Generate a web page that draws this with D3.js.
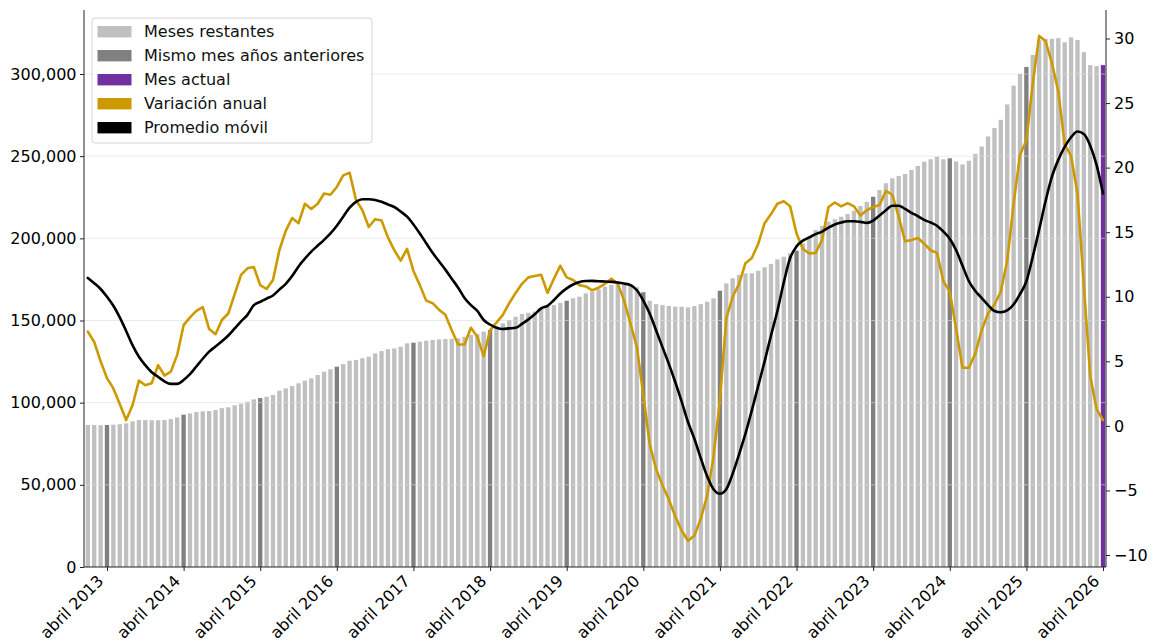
<!DOCTYPE html>
<html><head><meta charset="utf-8">
<script src="https://cdn.jsdelivr.net/npm/d3@7"></script>
<style>
html,body{margin:0;padding:0;background:#fff;}
svg{display:block;font-family:"DejaVu Sans",sans-serif;}
</style></head><body>
<svg id="chart" width="1153" height="641"></svg>
<script>
// ---- data ----
const months = d3.timeMonth.range(new Date(2013, 0, 1), new Date(2026, 4, 1)); // ene 2013 .. abr 2026
const currentMonth = 3; // abril

const stock = [
  86400,86400,86300,86400,86600,86900,87400,88600,89400,89400,89300,89300,
  89400,90000,91000,92700,93500,94300,94700,94900,95500,96700,97200,98400,
  99400,100600,102000,102800,103600,104700,107300,108700,110100,111800,113400,114800,
  116800,118800,120300,121900,123500,125500,126000,127000,128000,130000,131400,132500,
  133000,134000,136100,136500,137100,137700,138100,138500,138700,138900,139100,140100,
  141200,141800,143200,144200,146700,148300,150300,152300,154000,154700,155400,157400,
  158400,159400,160800,162000,163500,164500,166500,167500,169000,170600,171600,172600,
  172200,172200,170200,167200,162000,160000,159400,158800,158400,158400,158000,158800,
  160000,161400,163500,168100,172600,175700,177700,178700,178700,180300,182400,184400,
  187200,188800,190900,192500,197000,201000,205100,207500,210100,211600,213200,214800,
  216800,219700,222300,225300,229400,233500,236500,237900,239100,241600,244000,246600,
  248100,249700,248100,248700,246800,245000,247200,251400,255900,262000,267200,272100,
  281500,292900,300000,304300,311600,320700,321400,321400,321800,319300,322300,320700,
  313300,305400,304800,305400
];

const variacionAnual = [
  7.3,6.5,5.0,3.7,2.9,1.7,0.45,1.6,3.5,3.15,3.3,4.7,
  3.9,4.2,5.5,7.8,8.4,8.9,9.2,7.5,7.1,8.2,8.7,10.2,
  11.7,12.2,12.3,10.9,10.6,11.3,13.6,15.1,16.1,15.7,17.2,16.8,
  17.2,18.0,17.9,18.5,19.4,19.6,17.5,16.7,15.4,16.0,15.9,14.6,
  13.6,12.8,13.7,12.0,10.9,9.7,9.5,9.0,8.6,7.4,6.3,6.3,
  7.6,6.9,5.4,7.4,8.0,8.6,9.5,10.3,11.0,11.5,11.6,11.7,
  10.3,11.4,12.4,11.5,11.3,10.9,10.8,10.5,10.7,11.0,11.4,11.0,
  9.7,7.9,6.1,2.4,-1.4,-3.35,-4.6,-5.7,-7.0,-8.1,-8.9,-8.5,
  -7.2,-5.4,-2.4,2.0,8.3,10.0,11.0,12.6,13.0,14.1,15.7,16.4,
  17.2,17.4,17.0,14.9,13.7,13.35,13.4,14.4,16.95,17.3,17.0,17.25,
  17.0,16.3,16.7,16.95,17.1,18.2,17.9,16.2,14.3,14.4,14.55,14.1,
  13.6,13.4,11.2,10.4,7.5,4.5,4.5,5.6,7.4,8.7,9.4,10.4,
  12.8,17.2,21.0,22.1,26.5,30.2,29.8,28.1,25.9,21.8,20.9,18.0,
  10.9,3.85,1.3,0.45
];

const promedioMovil = [
  11.46,11.05,10.6,10.0,9.3,8.4,7.35,6.25,5.35,4.7,4.15,3.8,
  3.45,3.25,3.25,3.55,4.0,4.6,5.2,5.75,6.15,6.55,7.0,7.55,
  8.1,8.6,9.35,9.6,9.86,10.1,10.55,11.0,11.6,12.35,12.95,13.5,
  13.95,14.4,14.9,15.5,16.2,16.9,17.35,17.55,17.55,17.5,17.35,17.15,
  16.95,16.6,16.2,15.6,14.9,14.15,13.4,12.75,12.1,11.4,10.7,9.9,
  9.35,8.9,8.2,7.85,7.6,7.5,7.55,7.6,7.9,8.25,8.65,9.1,
  9.3,9.75,10.25,10.65,10.95,11.15,11.22,11.23,11.2,11.18,11.15,11.1,
  11.02,10.9,10.5,9.7,8.7,7.4,6.1,4.8,3.4,1.9,0.3,-1.0,
  -2.5,-3.9,-4.9,-5.25,-4.9,-3.7,-2.2,-0.6,1.2,3.1,5.0,7.0,
  8.9,11.1,13.0,13.9,14.35,14.6,14.85,15.05,15.35,15.6,15.75,15.85,
  15.85,15.8,15.72,15.9,16.3,16.7,17.05,17.05,16.8,16.5,16.25,15.95,
  15.75,15.5,15.05,14.5,13.6,12.4,11.2,10.45,9.9,9.35,8.9,8.8,
  8.95,9.4,10.2,11.2,13.1,15.2,17.4,19.3,20.6,21.6,22.35,22.8,
  22.6,21.7,20.2,18.0
];

const leftTicks = [0, 50000, 100000, 150000, 200000, 250000, 300000];
const rightTicks = [-10, -5, 0, 5, 10, 15, 20, 25, 30];
const xTickLabels = ["abril 2013","abril 2014","abril 2015","abril 2016","abril 2017","abril 2018","abril 2019",
  "abril 2020","abril 2021","abril 2022","abril 2023","abril 2024","abril 2025","abril 2026"];

const legendLabels = ["Meses restantes","Mismo mes años anteriores","Mes actual","Variación anual","Promedio móvil"];
const colors = {rest:"#c0c0c0", same:"#808080", current:"#7030a0", var:"#cc9a00", avg:"#000000"};
const legendColors = [colors.rest, colors.same, colors.current, colors.var, colors.avg];

// ---- layout ----
const plot = {left:84, right:1106, top:10, bottom:567};
const n = stock.length;
const last = n - 1;

const svg = d3.select("#chart");

const x = d3.scaleLinear().domain([-0.6, last + 0.47]).range([plot.left, plot.right]);
const yL = d3.scaleLinear().domain([0, 300000]).range([plot.bottom, 74]);
const yR = d3.scaleLinear().domain([-10, 30]).range([555, 38.5]);
const step = x(1) - x(0);
const bw = step * 0.68;

const barType = (d, i) => i === last ? "current" : (months[i].getMonth() === currentMonth ? "same" : "rest");

// bars
svg.append("g").selectAll("rect").data(stock).join("rect")
  .attr("x", (d, i) => x(i) - bw / 2)
  .attr("width", bw)
  .attr("y", d => yL(d))
  .attr("height", d => yL(0) - yL(d))
  .attr("fill", (d, i) => colors[barType(d, i)]);

// grid (above bars, semi transparent)
svg.append("g").selectAll("line").data(leftTicks.filter(d => d > 0)).join("line")
  .attr("x1", plot.left).attr("x2", plot.right)
  .attr("y1", d => yL(d)).attr("y2", d => yL(d))
  .attr("stroke", "#dcdcdc").attr("stroke-opacity", 0.6).attr("stroke-width", 1);

// lines
const lineVar = d3.line().x((d, i) => x(i)).y(d => yR(d));
const lineAvg = d3.line().x((d, i) => x(i)).y(d => yR(d)).curve(d3.curveMonotoneX);

svg.append("path").datum(variacionAnual)
  .attr("d", lineVar).attr("fill", "none").attr("stroke", colors.var)
  .attr("stroke-width", 2.6).attr("stroke-linejoin", "round").attr("stroke-linecap", "round");
svg.append("path").datum(promedioMovil)
  .attr("d", lineAvg).attr("fill", "none").attr("stroke", colors.avg)
  .attr("stroke-width", 2.6).attr("stroke-linejoin", "round").attr("stroke-linecap", "round");

// axes
const fmtR = d => d < 0 ? "\u2212" + Math.abs(d) : String(d);
const axL = svg.append("g").attr("transform", `translate(${plot.left},0)`)
  .call(d3.axisLeft(yL).tickValues(leftTicks).tickFormat(d3.format(",")).tickSize(4).tickPadding(3.5));
const axR = svg.append("g").attr("transform", `translate(${plot.right},0)`)
  .call(d3.axisRight(yR).tickValues(rightTicks).tickFormat(fmtR).tickSize(4).tickPadding(4));
const aprilIdx = d3.range(n).filter(i => months[i].getMonth() === currentMonth);
const axB = svg.append("g").attr("transform", `translate(0,${plot.bottom})`)
  .call(d3.axisBottom(x).tickValues(aprilIdx).tickFormat((d, i) => xTickLabels[i]).tickSize(4));

[axL, axR, axB].forEach(a => {
  a.select(".domain").remove();
  a.selectAll("text").attr("font-size", 16).attr("font-family", "DejaVu Sans").attr("fill", "#000");
  a.selectAll(".tick line").attr("stroke", "#222");
});
axB.selectAll("text")
  .attr("text-anchor", "end").attr("x", 0).attr("y", 0).attr("dy", 0)
  .attr("transform", "translate(-3,15) rotate(-45)");

// spines
svg.append("line").attr("x1", plot.left).attr("x2", plot.left).attr("y1", plot.top).attr("y2", plot.bottom).attr("stroke", "#222");
svg.append("line").attr("x1", plot.right).attr("x2", plot.right).attr("y1", plot.top).attr("y2", plot.bottom).attr("stroke", "#222");
svg.append("line").attr("x1", plot.left).attr("x2", plot.right).attr("y1", plot.bottom).attr("y2", plot.bottom).attr("stroke", "#222");

// legend
const lg = svg.append("g").attr("transform", "translate(92,18)");
lg.append("rect").attr("width", 280).attr("height", 125).attr("rx", 3)
  .attr("fill", "#fff").attr("fill-opacity", 0.85).attr("stroke", "#d5d5d5");
const items = lg.selectAll("g.item").data(legendLabels).join("g").attr("class", "item")
  .attr("transform", (d, i) => `translate(0,${13.7 + i * 24})`);
items.append("rect").attr("x", 5.5).attr("y", -5.7).attr("width", 34).attr("height", 11.4)
  .attr("fill", (d, i) => legendColors[i]);
items.append("text").attr("x", 52).attr("dy", "0.35em").attr("font-size", 16).attr("fill", "#111")
  .text(d => d);
</script>
</body></html>
